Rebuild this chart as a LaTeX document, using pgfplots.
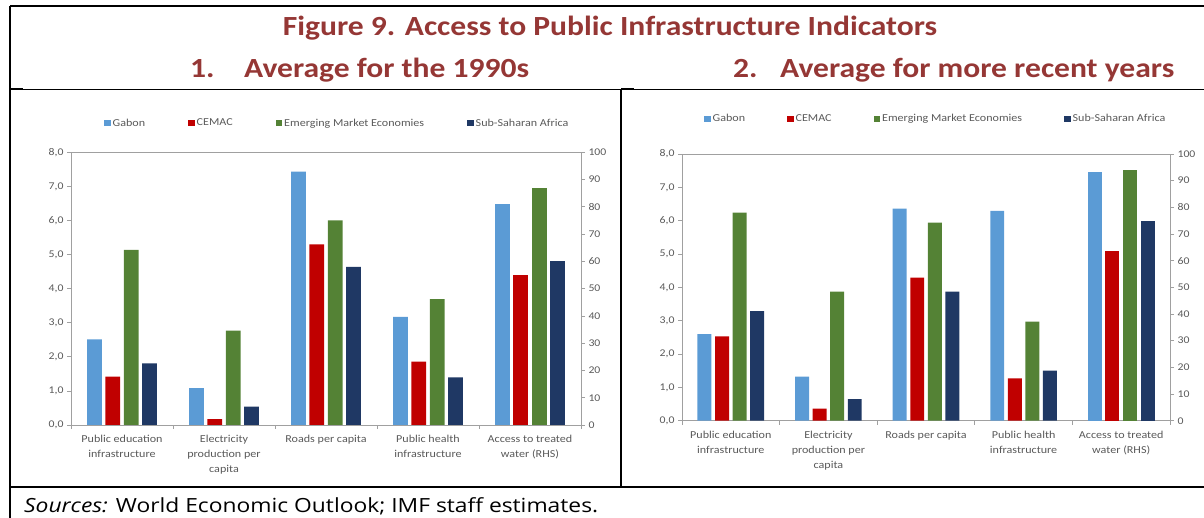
\documentclass[border=0pt]{standalone}
\usepackage{pgfplots}
\pgfplotsset{compat=1.18}
\usepackage{fontspec}
\setmainfont{Carlito}[FakeStretch=1.14]
\newfontfamily\srcfont{Open Sans}[FakeStretch=1.17]
\definecolor{cGab}{HTML}{5B9BD5}
\definecolor{cCem}{HTML}{C00000}
\definecolor{cEme}{HTML}{548235}
\definecolor{cSsa}{HTML}{1F3864}
\definecolor{ttl}{RGB}{149,55,53}
\definecolor{axg}{HTML}{A0A0A0}
\definecolor{txg}{HTML}{595959}

\pgfplotsset{
 base/.style={
  scale only axis, anchor=south west,
  xmin=-0.5, xmax=4.5, ymin=0,
  ybar, bar width=0.145,
  axis line style={axg, line width=0.8pt},
  tick style={axg, line width=0.8pt},
  tick align=outside,
  major tick length=4pt,
  ticklabel style={font=\fontsize{10.3}{12}\selectfont, text=txg},
  /pgf/number format/assume math mode=true,
 },
 main/.style={base,
  ymax=8, ytick={0,...,8},
  yticklabel style={/pgf/number format/.cd, fixed, fixed zerofill, precision=1, use comma},
  ytick pos=left,
  xtick={-0.5,0.5,1.5,2.5,3.5,4.5},
  xticklabels={,,,,,},
  xtick pos=bottom,
  extra x ticks={0,1,2,3,4},
  extra x tick labels={Public education\\infrastructure, Electricity\\production per\\capita, Roads per capita, Public health\\infrastructure, Access to treated\\water (RHS)},
  extra x tick style={tick style={draw=none}, xticklabel style={align=center, font=\fontsize{10.6}{15}\selectfont, text=txg, yshift=-3pt, anchor=north}},
  legend columns=4,
  legend image code/.code={\fill[##1,draw=none] (0pt,-3.25pt) rectangle (6.5pt,3.25pt);},
  legend style={draw=none, fill=none, inner sep=0pt, anchor=west,
    font=\fontsize{10.6}{13}\selectfont, text=txg,
    /tikz/every even column/.append style={column sep=41pt}},
 },
 rhs/.style={base, ymax=100, ytick={0,10,...,100},
  axis y line*=right, hide x axis,
 },
 pG/.style={fill=cGab, draw=none, bar shift=-0.27},
 pC/.style={fill=cCem, draw=none, bar shift=-0.09},
 pE/.style={fill=cEme, draw=none, bar shift=0.09},
 pS/.style={fill=cSsa, draw=none, bar shift=0.27},
}

\begin{document}
\begin{tikzpicture}[x=1pt,y=1pt]
\path[use as bounding box] (0,0) rectangle (1204,518);
% frame
\draw[line width=2pt] (10,512) -- (1204,512);
\draw[line width=2pt] (10,512) -- (10,0);
\draw[line width=0.9pt] (10,429) -- (1204,429);
\draw[line width=2pt] (10,429) -- (23,429);
\draw[line width=2pt] (621,429) -- (634,429);
\draw[line width=1.6pt] (621,429) -- (621,31);
\draw[line width=2pt] (10,31) -- (1204,31);
% titles
\node[font=\fontsize{27.7}{30}\selectfont\bfseries, text=ttl] at (610,490) {Figure 9. Access to Public Infrastructure Indicators};
\node[font=\fontsize{27.7}{30}\selectfont\bfseries, text=ttl, anchor=base west, inner sep=0pt] at (190,440) {1.};
\node[font=\fontsize{27.7}{30}\selectfont\bfseries, text=ttl, anchor=base west, inner sep=0pt] at (244,440) {Average for the 1990s};
\node[font=\fontsize{27.7}{30}\selectfont\bfseries, text=ttl, anchor=base west, inner sep=0pt] at (733,440) {2.};
\node[font=\fontsize{27.7}{30}\selectfont\bfseries, text=ttl, anchor=base west, inner sep=0pt] at (780,440) {Average for more recent years};
\node[font=\fontsize{19.5}{22}\srcfont, anchor=base west, inner sep=0pt] at (24,5) {\textit{Sources:} World Economic Outlook; IMF staff estimates.};

% ---------- Panel 1 ----------
\begin{axis}[main, at={(71pt,93pt)}, width=510pt, height=272.7pt,
  legend style={at={(0.0647,1.107)}}]
\addplot[pG] coordinates {(0,2.51) (1,1.08) (2,7.43) (3,3.17)};
\addplot[pC] coordinates {(0,1.42) (1,0.17) (2,5.30) (3,1.86)};
\addplot[pE] coordinates {(0,5.14) (1,2.77) (2,6.00) (3,3.69)};
\addplot[pS] coordinates {(0,1.81) (1,0.54) (2,4.64) (3,1.40)};
\legend{Gabon, CEMAC, Emerging Market Economies, Sub-Saharan Africa}
\end{axis}
\begin{axis}[rhs, at={(71pt,93pt)}, width=510pt, height=272.7pt]
\addplot[pG] coordinates {(4,81)};
\addplot[pC] coordinates {(4,55)};
\addplot[pE] coordinates {(4,87)};
\addplot[pS] coordinates {(4,60)};
\end{axis}

% ---------- Panel 2 ----------
\begin{axis}[main, at={(682pt,97.3pt)}, width=488pt, height=266.7pt, bar width=0.143,
  legend style={at={(0.045,1.131)}, /tikz/every even column/.append style={column sep=40pt}}]
\addplot[pG] coordinates {(0,2.60) (1,1.32) (2,6.36) (3,6.29)};
\addplot[pC] coordinates {(0,2.53) (1,0.36) (2,4.29) (3,1.27)};
\addplot[pE] coordinates {(0,6.24) (1,3.87) (2,5.94) (3,2.97)};
\addplot[pS] coordinates {(0,3.29) (1,0.65) (2,3.87) (3,1.50)};
\legend{Gabon, CEMAC, Emerging Market Economies, Sub-Saharan Africa}
\end{axis}
\begin{axis}[rhs, at={(682pt,97.3pt)}, width=488pt, height=266.7pt, bar width=0.143]
\addplot[pG] coordinates {(4,93.3)};
\addplot[pC] coordinates {(4,63.8)};
\addplot[pE] coordinates {(4,94)};
\addplot[pS] coordinates {(4,75)};
\end{axis}
\end{tikzpicture}
\end{document}
